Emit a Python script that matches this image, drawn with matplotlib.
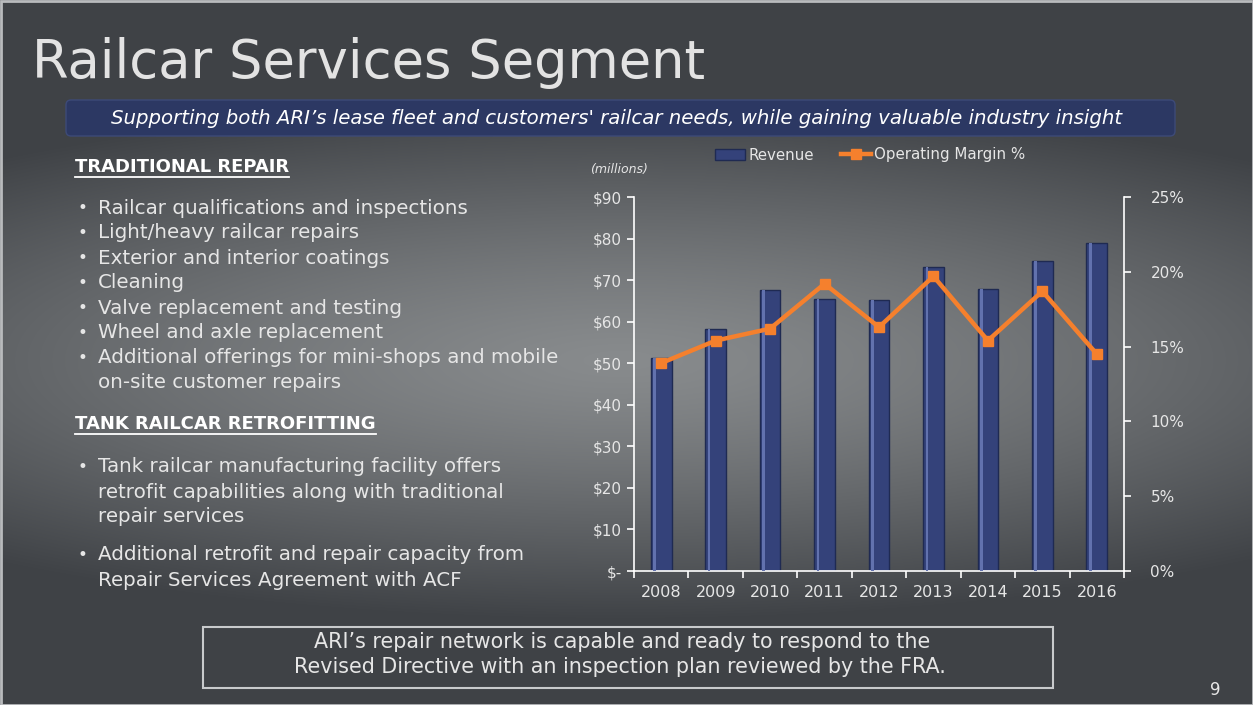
import numpy as np
import matplotlib.pyplot as plt
from matplotlib.patches import FancyBboxPatch, Rectangle
from matplotlib.lines import Line2D

# data
years = ["2008", "2009", "2010", "2011", "2012", "2013", "2014", "2015", "2016"]
revenue = [51.3, 58.2, 67.6, 65.5, 65.3, 73.1, 67.9, 74.6, 78.9]
margin = [13.9, 15.4, 16.2, 19.2, 16.3, 19.7, 15.4, 18.7, 14.5]
rev_ticks = [0, 10, 20, 30, 40, 50, 60, 70, 80, 90]
rev_labels = ["$-", "$10", "$20", "$30", "$40", "$50", "$60", "$70", "$80", "$90"]
pct_ticks = [0, 5, 10, 15, 20, 25]
pct_labels = ["0%", "5%", "10%", "15%", "20%", "25%"]

repair_items = [
    "Railcar qualifications and inspections",
    "Light/heavy railcar repairs",
    "Exterior and interior coatings",
    "Cleaning",
    "Valve replacement and testing",
    "Wheel and axle replacement",
    "Additional offerings for mini-shops and mobile\non-site customer repairs",
]
retrofit_items = [
    "Tank railcar manufacturing facility offers\nretrofit capabilities along with traditional\nrepair services",
    "Additional retrofit and repair capacity from\nRepair Services Agreement with ACF",
]

W, H = 1253, 705
fig = plt.figure(figsize=(12.53, 7.05), dpi=100)
plt.rcParams["font.family"] = ["DejaVu Sans"]

# background gradient
bg = fig.add_axes([0, 0, 1, 1])
yy, xx = np.mgrid[0:H, 0:W]
r = np.sqrt(((xx - 620) / 1000.0) ** 2 + ((yy - 360) / 260.0) ** 2)
t = np.clip(r, 0, 1) ** 1.3
light = np.array([136, 139, 141]) / 255.0
dark = np.array([63, 66, 70]) / 255.0
img = light[None, None, :] * (1 - t[..., None]) + dark[None, None, :] * t[..., None]
bg.imshow(img, extent=[0, W, H, 0], aspect="auto")
bg.set_xlim(0, W)
bg.set_ylim(H, 0)
bg.axis("off")
bg.add_patch(Rectangle((0.5, 0.5), W - 1, H - 1, fill=False, ec="#b9bbbd", lw=2))


def fx(px):
    return px / W


def fy(py):
    return 1 - py / H


txt = "#e6e6e6"

# title
fig.text(fx(32), fy(78), "Railcar Services Segment", fontsize=38, color="#e3e3e3",
         va="baseline", ha="left")

# banner
bg.add_patch(FancyBboxPatch((66, 100), 1109, 36, boxstyle="round,pad=0,rounding_size=5",
                            fc="#2c3863", ec="#3d4a78", lw=1))
fig.text(fx(617), fy(118),
         "Supporting both ARI\u2019s lease fleet and customers' railcar needs, while gaining valuable industry insight",
         fontsize=14.2, color="white", style="italic", ha="center", va="center")

# left text blocks
heads = []
heads.append(fig.text(fx(75), fy(167), "TRADITIONAL REPAIR", fontsize=13, weight="bold",
                      color="white", va="center", ha="left"))
y = 208
for item in repair_items:
    fig.text(fx(78), fy(y), "\u2022", fontsize=12, color=txt, va="center", ha="left")
    for ln in item.split("\n"):
        fig.text(fx(98), fy(y), ln, fontsize=14.3, color=txt, va="center", ha="left")
        y += 25

heads.append(fig.text(fx(75), fy(424), "TANK RAILCAR RETROFITTING", fontsize=13, weight="bold",
                      color="white", va="center", ha="left"))
for y0, item in zip([467, 555], retrofit_items):
    fig.text(fx(78), fy(y0), "\u2022", fontsize=12, color=txt, va="center", ha="left")
    for k, ln in enumerate(item.split("\n")):
        fig.text(fx(98), fy(y0 + 25 * k), ln, fontsize=14.3, color=txt, va="center", ha="left")

# bottom box
bg.add_patch(Rectangle((203, 627), 850, 61, fill=False, ec="#c8cacc", lw=1.5))
fig.text(fx(622), fy(642), "ARI\u2019s repair network is capable and ready to respond to the",
         fontsize=14.9, color=txt, ha="center", va="center")
fig.text(fx(620), fy(667), "Revised Directive with an inspection plan reviewed by the FRA.",
         fontsize=14.9, color=txt, ha="center", va="center")
fig.text(fx(1215), fy(690), "9", fontsize=12, color=txt, ha="center", va="center")

# chart
ax = fig.add_axes([fx(634), fy(571), fx(1124) - fx(634), fy(197) - fy(571)])
ax.patch.set_alpha(0)
x = np.arange(len(years))
ax.bar(x, revenue, width=0.38, color="#34427a", edgecolor="#1f2a52", linewidth=1,
       label="Revenue", zorder=2)
ax.bar(x - 0.12, revenue, width=0.05, color="#6272ae", linewidth=0, zorder=3)
ax.set_xlim(-0.5, len(years) - 0.5)
ax.set_ylim(0, 90)
ax.set_yticks(rev_ticks)
ax.set_yticklabels(rev_labels)
ax.set_xticks(x)
ax.set_xticklabels(years)
ax.set_xticks(np.arange(-0.5, len(years)), minor=True)
ax.tick_params(axis="x", which="major", length=0, colors=txt, labelsize=11.5, pad=10)
ax.tick_params(axis="x", which="minor", length=5, color="white", width=1.2)
ax.tick_params(axis="y", length=5, color="white", width=1.2, labelcolor=txt, labelsize=11)
for s in ["top", "right"]:
    ax.spines[s].set_visible(False)
for s in ["left", "bottom"]:
    ax.spines[s].set_color("white")
    ax.spines[s].set_linewidth(1.2)

ax2 = ax.twinx()
ax2.plot(x, margin, color="#f5802d", lw=3.2, marker="s", markersize=7,
         label="Operating Margin %", zorder=4)
ax2.set_ylim(0, 25)
ax2.set_yticks(pct_ticks)
ax2.set_yticklabels(pct_labels)
ax2.tick_params(axis="y", length=5, color="white", width=1.2, labelcolor=txt, labelsize=11,
                pad=14)
for s in ["top", "left", "bottom"]:
    ax2.spines[s].set_visible(False)
ax2.spines["right"].set_color("white")
ax2.spines["right"].set_linewidth(1.2)

h1, l1 = ax.get_legend_handles_labels()
h2, l2 = ax2.get_legend_handles_labels()
leg = fig.legend(h1 + h2, l1 + l2, loc="center", bbox_to_anchor=(fx(870), fy(155)),
                 ncol=2, frameon=False, fontsize=10.8, labelcolor=txt,
                 handlelength=2.0, handletextpad=0.2, columnspacing=1.8)

fig.text(fx(590), fy(170), "(millions)", fontsize=9, style="italic", color=txt,
         ha="left", va="center")

# underline the headings
fig.canvas.draw()
rend = fig.canvas.get_renderer()
for h in heads:
    bb = h.get_window_extent(rend).transformed(fig.transFigure.inverted())
    fig.add_artist(Line2D([bb.x0, bb.x1], [bb.y0 - 0.002, bb.y0 - 0.002],
                          transform=fig.transFigure, color="white", lw=1.3))

fig.savefig("out.png", dpi=100)
